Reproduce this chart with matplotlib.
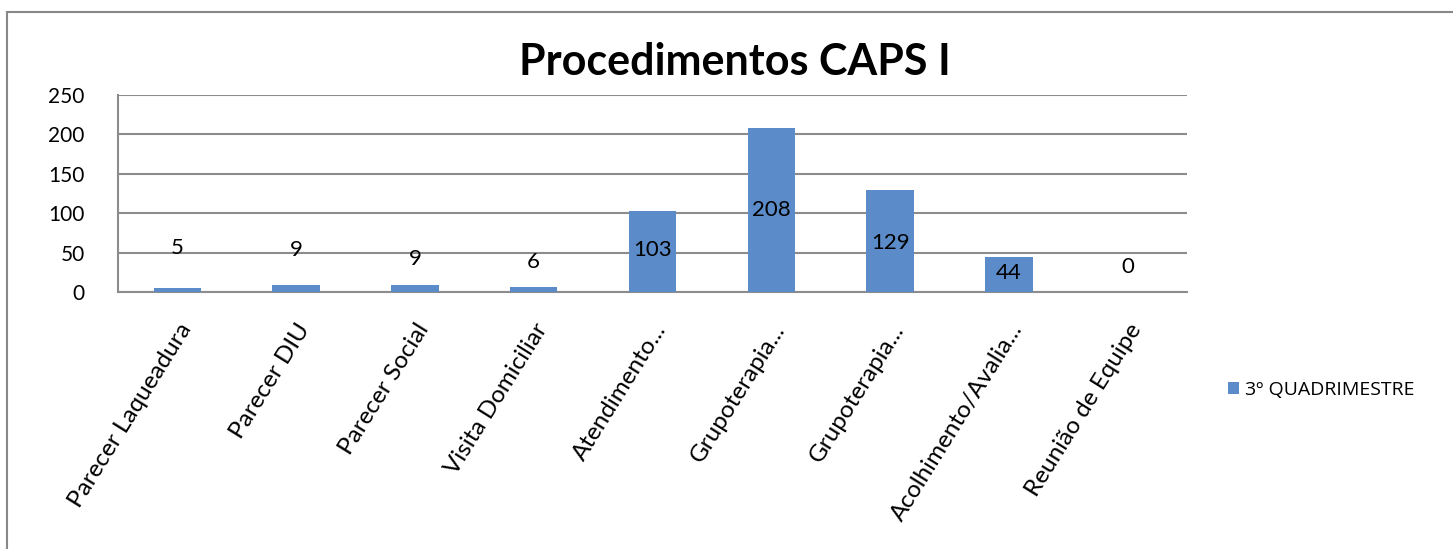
import matplotlib.pyplot as plt
from matplotlib.patches import Rectangle

plt.rcParams['font.family'] = ['Lato', 'DejaVu Sans']

categories = ['Parecer Laqueadura', 'Parecer DIU', 'Parecer Social', 'Visita Domiciliar',
              'Atendimento...', 'Grupoterapia...', 'Grupoterapia...', 'Acolhimento/Avalia...',
              'Reunião de Equipe']
values = [5, 9, 9, 6, 103, 208, 129, 44, 0]
# where Excel put the data labels (data units)
label_y = [56, 53, 42, 38, 53, 104, 62, 24, 32]
series_name = '3º QUADRIMESTRE'
yticks = [0, 50, 100, 150, 200, 250]

bar_color = '#5b8bc8'
grid_color = '#8c8c8c'

fig = plt.figure(figsize=(14.53, 5.49), dpi=100)
# chart area border
fig.patches.append(Rectangle((7 / 1453, -0.1), 1.2, (549 - 12) / 549 + 0.1,
                             transform=fig.transFigure, fill=False,
                             edgecolor='#888888', linewidth=1.5))

ax = fig.add_axes([118 / 1453, 1 - 292 / 549, (1187 - 118) / 1453, (292 - 95) / 549])
x = range(len(categories))
bars = ax.bar(x, values, width=0.4, color=bar_color, label=series_name, zorder=3)

for i, (v, ly) in enumerate(zip(values, label_y)):
    ax.text(i, ly, str(v), ha='center', va='center', fontsize=16, color='black', zorder=4)

ax.set_xlim(-0.5, len(categories) - 0.5)
ax.set_ylim(0, 250)
ax.set_yticks(yticks)
ax.tick_params(axis='y', length=0, labelsize=15, pad=24)
ax.yaxis.grid(True, color=grid_color, linewidth=1.5, zorder=0)
ax.set_xticks(list(x))
ax.set_xticklabels(categories, rotation=58, ha='right', rotation_mode='anchor', fontsize=17.5)
ax.tick_params(axis='x', length=0, pad=20)

for side in ['top', 'right']:
    ax.spines[side].set_visible(False)
ax.spines['left'].set_color(grid_color)
ax.spines['left'].set_linewidth(1.5)
ax.spines['bottom'].set_color(grid_color)
ax.spines['bottom'].set_linewidth(1.5)

fig.text(735 / 1453, 1 - 62 / 549, 'Procedimentos CAPS I', ha='center', va='center',
         fontsize=31, fontweight='bold')

fig.legend(loc='center left', bbox_to_anchor=(1210 / 1453, 1 - 390 / 549), frameon=False,
           prop={'family': ['Open Sans', 'DejaVu Sans'], 'size': 14},
           handlelength=0.6, handleheight=0.6, handletextpad=0.3)

fig.savefig('out.png', dpi=100)
